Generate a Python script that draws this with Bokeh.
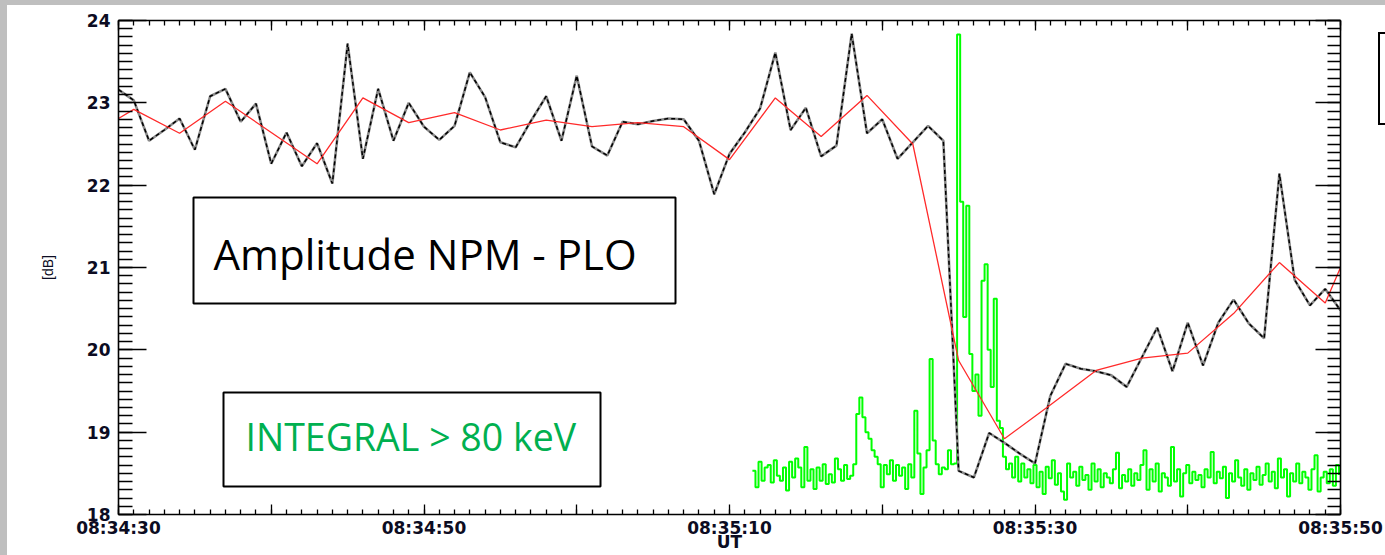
import numpy as np
from bokeh.plotting import figure
from bokeh.layouts import row, column
from bokeh.models import Range1d, LinearAxis, FixedTicker, BoxAnnotation, Label, Div
from bokeh.embed import file_html
from bokeh.resources import INLINE

# ---------------- data (time in seconds after 08:34:30 UT) ----------------
amp_t = list(range(0, 81))
amp_db = [23.16, 23.03, 22.54, 22.67, 22.81, 22.43, 23.08, 23.17, 22.77, 22.99,
          22.26, 22.64, 22.23, 22.51, 22.02, 23.72, 22.32, 23.17, 22.54, 23.00,
          22.71, 22.55, 22.72, 23.37, 23.07, 22.52, 22.46, 22.78, 23.08, 22.54,
          23.33, 22.47, 22.36, 22.77, 22.74, 22.78, 22.81, 22.80, 22.54, 21.89,
          22.38, 22.64, 22.93, 23.61, 22.67, 22.94, 22.35, 22.48, 23.84, 22.63,
          22.80, 22.32, 22.52, 22.72, 22.54, 18.53, 18.45, 18.99, 18.87, 18.74,
          18.62, 19.44, 19.83, 19.77, 19.74, 19.69, 19.55, 19.91, 20.27, 19.74,
          20.33, 19.81, 20.33, 20.61, 20.32, 20.14, 22.14, 20.85, 20.54, 20.74,
          20.48]

smooth_t = [0, 1, 4, 7, 10, 13, 16, 19, 22, 25, 28, 31, 34, 37, 40, 43, 46, 49,
            52, 55, 58, 61, 64, 67, 70, 73, 76, 79, 80]
smooth_db = [22.81, 22.92, 22.63, 23.02, 22.64, 22.26, 23.06, 22.76, 22.88, 22.67,
             22.79, 22.71, 22.76, 22.71, 22.31, 23.06, 22.59, 23.09, 22.50, 19.87,
             18.92, 19.33, 19.75, 19.90, 19.96, 20.44, 21.06, 20.57, 21.00]

integral_t0 = 41.5
integral_dt = 0.2
integral_level = [
    18.53, 18.33, 18.64, 18.41, 18.57, 18.60, 18.39, 18.66, 18.47, 18.41,
    18.57, 18.29, 18.64, 18.45, 18.68, 18.57, 18.33, 18.82, 18.41, 18.55,
    18.31, 18.57, 18.41, 18.61, 18.37, 18.49, 18.39, 18.68, 18.55, 18.41,
    18.60, 18.43, 18.47, 18.61, 19.22, 19.42, 19.18, 19.00, 18.92, 18.78,
    18.70, 18.61, 18.33, 18.60, 18.49, 18.66, 18.41, 18.60, 18.47, 18.57,
    18.31, 18.61, 18.45, 19.26, 18.74, 18.25, 18.57, 18.78, 19.89, 18.90,
    18.61, 18.49, 18.57, 18.55, 18.78, 18.61, 18.62, 23.83, 21.80, 20.40,
    21.75, 19.95, 19.50, 19.70, 19.20, 20.84, 21.04, 20.00, 19.55, 20.62,
    19.14, 19.05, 18.70, 18.55, 18.62, 18.45, 18.70,
    18.40, 18.62, 18.45, 18.55, 18.38, 18.60, 18.33, 18.52, 18.25, 18.58,
    18.44, 18.66, 18.36, 18.50, 18.28, 18.18, 18.62, 18.45, 18.52, 18.35,
    18.58, 18.42, 18.48, 18.30, 18.62, 18.40, 18.55, 18.33, 18.50, 18.45,
    18.38, 18.55, 18.75, 18.32, 18.48, 18.40, 18.55, 18.35, 18.50, 18.42,
    18.60, 18.78, 18.30, 18.55, 18.40, 18.62, 18.28, 18.50, 18.45, 18.35,
    18.82, 18.40, 18.55, 18.22, 18.50, 18.60, 18.38, 18.52, 18.42, 18.48,
    18.33, 18.55, 18.45, 18.76, 18.38, 18.52, 18.44, 18.58, 18.20, 18.50,
    18.40, 18.66, 18.45, 18.35, 18.55, 18.30, 18.50, 18.42, 18.58, 18.36,
    18.48, 18.62, 18.40, 18.52, 18.32, 18.68, 18.45, 18.55, 18.22, 18.50,
    18.40, 18.62, 18.38, 18.52, 18.45, 18.30, 18.55, 18.72, 18.28, 18.45,
    18.52, 18.38, 18.55, 18.35, 18.60, 18.48]
integral_t = [integral_t0 + integral_dt * i for i in range(len(integral_level))]

x_ticks = [0, 10, 20, 30, 40, 50, 60, 70, 80]
x_tick_labels = ["08:34:30", "", "08:34:50", "", "08:35:10", "", "08:35:30", "", "08:35:50"]
y_ticks = [18, 19, 20, 21, 22, 23, 24]
y_tick_labels = ["18", "19", "20", "21", "22", "23", "24"]

# ---------------- figure ----------------
p = figure(width=1378, height=550, x_range=Range1d(0, 80), y_range=Range1d(18, 24),
           output_backend="svg", toolbar_location=None, margin=0,
           x_axis_location=None, y_axis_location=None,
           min_border_left=111, min_border_right=45, min_border_top=15,
           min_border_bottom=41)
p.background_fill_color = "white"
p.border_fill_color = "white"
p.outline_line_color = None
p.grid.visible = False

label_color = "#0c0c22"
tick_font = "DejaVu Sans"

x_minor = list(np.arange(0, 81, 1))
y_minor = [round(v, 1) for v in np.arange(18, 24.001, 0.1)]


def style_axis(ax, tin, tminor, show_labels):
    ax.axis_line_color = "black"
    ax.axis_line_width = 1.6
    ax.major_tick_line_color = "black"
    ax.minor_tick_line_color = "black"
    ax.major_tick_line_width = 1.3
    ax.minor_tick_line_width = 1.3
    ax.major_tick_in = tin
    ax.major_tick_out = 0
    ax.minor_tick_in = tminor
    ax.minor_tick_out = 0
    if show_labels:
        ax.major_label_text_font = tick_font
        ax.major_label_text_font_style = "bold"
        ax.major_label_text_font_size = "17px"
        ax.major_label_text_color = label_color
    else:
        ax.major_label_text_color = None
        ax.major_label_text_font_size = "1px"
        ax.major_label_standoff = 0


bottom = LinearAxis(ticker=FixedTicker(ticks=x_ticks, minor_ticks=x_minor),
                    major_label_overrides=dict(zip(x_ticks, x_tick_labels)),
                    axis_label="UT")
style_axis(bottom, 10, 5, True)
bottom.major_label_standoff = 3
bottom.axis_label_standoff = -9
bottom.axis_label_text_font = tick_font
bottom.axis_label_text_font_style = "bold"
bottom.axis_label_text_font_size = "17px"
bottom.axis_label_text_color = label_color
p.add_layout(bottom, "below")

top = LinearAxis(ticker=FixedTicker(ticks=x_ticks, minor_ticks=x_minor))
style_axis(top, 10, 5, False)
p.add_layout(top, "above")

left = LinearAxis(ticker=FixedTicker(ticks=y_ticks, minor_ticks=y_minor),
                  major_label_overrides=dict(zip(y_ticks, y_tick_labels)),
                  axis_label="[dB]")
style_axis(left, 28, 14, True)
left.major_label_standoff = 8
left.axis_label_standoff = 28
left.axis_label_text_font = "Liberation Sans"
left.axis_label_text_font_style = "normal"
left.axis_label_text_font_size = "14px"
left.axis_label_text_color = label_color
p.add_layout(left, "left")

right = LinearAxis(ticker=FixedTicker(ticks=y_ticks, minor_ticks=y_minor))
style_axis(right, 25, 13, False)
p.add_layout(right, "right")

# ---------------- data lines ----------------
p.step(integral_t, integral_level, mode="after", line_color="#00ff00", line_width=2)
p.line(amp_t, amp_db, line_color="#8a8a8a", line_width=2.6)
p.line(amp_t, amp_db, line_color="black", line_width=1.5, line_dash="4 3")
p.line(smooth_t, smooth_db, line_color="#ff2a2a", line_width=1.3)

# ---------------- slide decorations (canvas px of the figure) ----------------
def box(l, r, t, b):
    return BoxAnnotation(left=l, right=r, top=t, bottom=b,
                         left_units="canvas", right_units="canvas",
                         top_units="canvas", bottom_units="canvas",
                         fill_color=None, fill_alpha=0,
                         line_color="black", line_alpha=1.0, line_width=2,
                         level="overlay")

p.add_layout(box(186, 668, 192, 298))
p.add_layout(box(216, 593, 387, 481))

p.add_layout(Label(x=206, y=248, x_units="canvas", y_units="canvas",
                   text="Amplitude NPM - PLO", text_font="Open Sans",
                   text_font_size="42px", text_color="black",
                   text_align="left", text_baseline="alphabetic"))
p.add_layout(Label(x=238, y=431, x_units="canvas", y_units="canvas",
                   text="INTEGRAL > 80 keV", text_font="Open Sans",
                   text_font_size="37.5px", text_color="#00b050",
                   text_align="left", text_baseline="alphabetic"))

# slide background strips and the partly visible box at the top right
corner_box = ('<div style="position:absolute; left:1371px; top:32px; width:60px; '
              'height:93px; border:2px solid black; box-sizing:border-box; '
              'z-index:10;"></div>')
top_strip = Div(text=corner_box, width=1378, height=5, margin=0,
                styles={"background-color": "#bfbfbf", "overflow": "visible",
                        "z-index": "10"})
left_strip = Div(text="", width=7, height=555, margin=0,
                 styles={"background-color": "#bfbfbf"})

layout = row(left_strip, column(top_strip, p, spacing=0, margin=0),
             spacing=0, margin=0)

open("out.html", "w").write(file_html(layout, INLINE))
